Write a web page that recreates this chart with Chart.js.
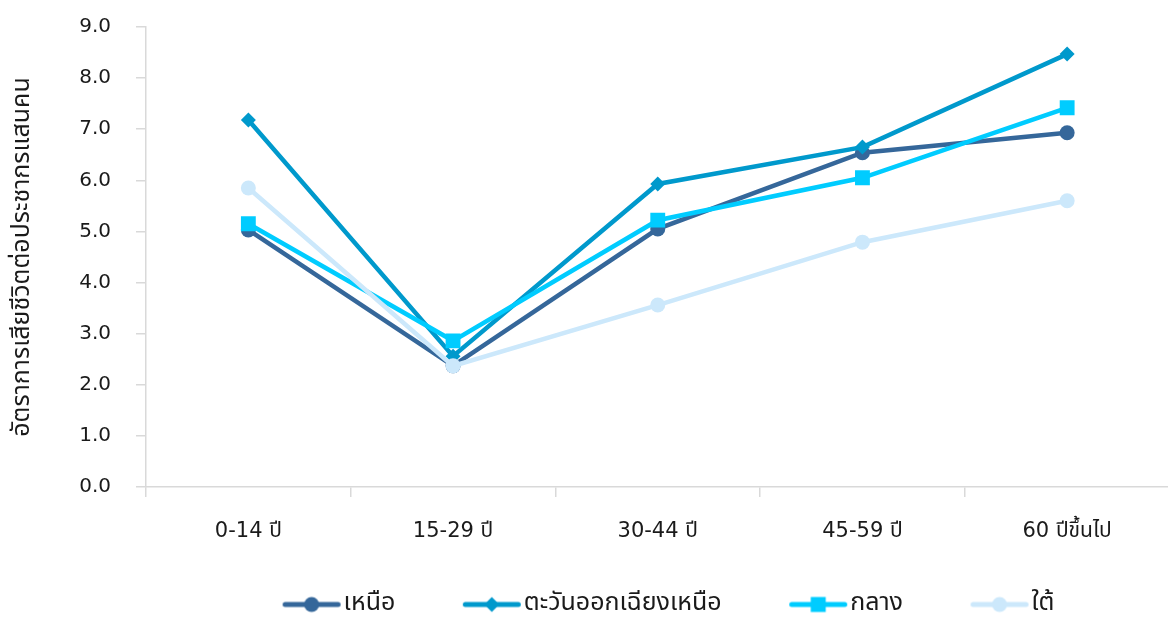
<!DOCTYPE html>
<html>
<head>
<meta charset="utf-8">
<script src="https://cdn.jsdelivr.net/npm/chart.js@4.4.1/dist/chart.umd.min.js"></script>
<style>
  html, body { margin: 0; padding: 0; background: #ffffff; overflow: hidden; width: 1168px; height: 617px; }
  #c { display: block; }
</style>
</head>
<body>
<canvas id="c" width="1180" height="617"></canvas>
<script>
const categories = ['0-14 ปี', '15-29 ปี', '30-44 ปี', '45-59 ปี', '60 ปีขึ้นไป'];
const seriesNames = ['เหนือ', 'ตะวันออกเฉียงเหนือ', 'กลาง', 'ใต้'];
const northValues = [5.03, 2.37, 5.05, 6.54, 6.93];
const northeastValues = [7.18, 2.56, 5.93, 6.65, 8.47];
const centralValues = [5.15, 2.86, 5.22, 6.05, 7.42];
const southValues = [5.85, 2.37, 3.56, 4.79, 5.60];
const yTicks = [0, 1, 2, 3, 4, 5, 6, 7, 8, 9];
const yTitle = 'อัตราการเสียชีวิตต่อประชากรแสนคน';

const colors = ['#35679A', '#0099CC', '#00CCFF', '#CCE8FB'];
const styles = ['circle', 'rectRot', 'rect', 'circle'];
const radii = [7.5, 7.5, 10.5, 7.5];
const legendMarker = [7.5, 7.5, 7.5, 7.5];
const FONT_NUM = '"DejaVu Sans", "Noto Sans Thai", "Noto Sans", sans-serif';
const FONT_TH = '"Noto Sans Thai", "Noto Sans", "DejaVu Sans", sans-serif';

const PW = 70;          // legend box width reserved
const IW = PW + 21;     // legend image width (visible line sits at its right end)
function legendImage(color, style, r) {
  const c = document.createElement('canvas');
  c.width = IW; c.height = 20;
  const ctx = c.getContext('2d');
  ctx.strokeStyle = color; ctx.fillStyle = color;
  ctx.lineWidth = 5; ctx.lineCap = 'round';
  const x2 = IW - 3.5, x1 = x2 - 53, cx = (x1 + x2) / 2, cy = 10;
  ctx.beginPath(); ctx.moveTo(x1, cy); ctx.lineTo(x2, cy); ctx.stroke();
  ctx.beginPath();
  if (style === 'circle') { ctx.arc(cx, cy, r, 0, Math.PI * 2); }
  else if (style === 'rect') { ctx.rect(cx - r, cy - r, 2 * r, 2 * r); }
  else { ctx.moveTo(cx, cy - r); ctx.lineTo(cx + r, cy); ctx.lineTo(cx, cy + r); ctx.lineTo(cx - r, cy); ctx.closePath(); }
  ctx.fill();
  return c;
}
const legendImgs = colors.map((c, i) => legendImage(c, styles[i], legendMarker[i]));

const seriesData = [northValues, northeastValues, centralValues, southValues];
const datasets = seriesData.map((vals, i) => ({
  label: seriesNames[i],
  data: vals,
  borderColor: colors[i],
  backgroundColor: colors[i],
  borderWidth: 4.5,
  pointStyle: styles[i],
  pointRadius: radii[i],
  pointHoverRadius: radii[i],
  pointBorderWidth: 0,
  tension: 0,
  order: 10 - i
}));

new Chart(document.getElementById('c'), {
  type: 'line',
  data: { labels: categories, datasets },
  options: {
    responsive: false,
    animation: false,
    devicePixelRatio: 1,
    layout: { padding: { top: 27, right: 6, left: 0, bottom: -10 } },
    plugins: {
      tooltip: { enabled: false },
      legend: {
        position: 'bottom',
        fullSize: false,
        labels: {
          usePointStyle: true,
          pointStyleWidth: PW,
          padding: 46,
          color: '#1a1a1a',
          font: { family: FONT_TH, size: 25 },
          sort: (a, b) => a.datasetIndex - b.datasetIndex,
          generateLabels: (chart) => {
            const items = Chart.defaults.plugins.legend.labels.generateLabels(chart);
            items.forEach(it => { it.pointStyle = legendImgs[it.datasetIndex]; });
            return items;
          }
        }
      }
    },
    scales: {
      x: {
        type: 'category',
        offset: true,
        grid: { display: true, drawOnChartArea: false, drawTicks: true, tickLength: 10, offset: true, color: '#D9D9D9', lineWidth: 1.5 },
        border: { display: true, color: '#D9D9D9', width: 1.5 },
        ticks: { color: '#1a1a1a', font: { family: FONT_NUM, size: 21 }, padding: 22, maxRotation: 0, autoSkip: false },
        afterFit: (s) => { s.height = 59; }
      },
      y: {
        min: 0, max: 9,
        afterBuildTicks: (s) => { s.ticks = yTicks.map(v => ({ value: v })); },
        grid: { display: true, drawOnChartArea: false, drawTicks: true, tickLength: 10, color: '#D9D9D9', lineWidth: 1.5 },
        border: { display: true, color: '#D9D9D9', width: 1.5 },
        ticks: { color: '#1a1a1a', font: { family: FONT_NUM, size: 20 }, padding: 25, callback: (v) => Number(v).toFixed(1) },
        title: { display: true, text: yTitle, color: '#1a1a1a', font: { family: FONT_TH, size: 25 }, padding: { top: 9, bottom: 0 } },
        afterFit: (s) => { s.width = 146; s.paddingTop = 12; s.paddingBottom = 12; }
      }
    }
  }
});
</script>
</body>
</html>
